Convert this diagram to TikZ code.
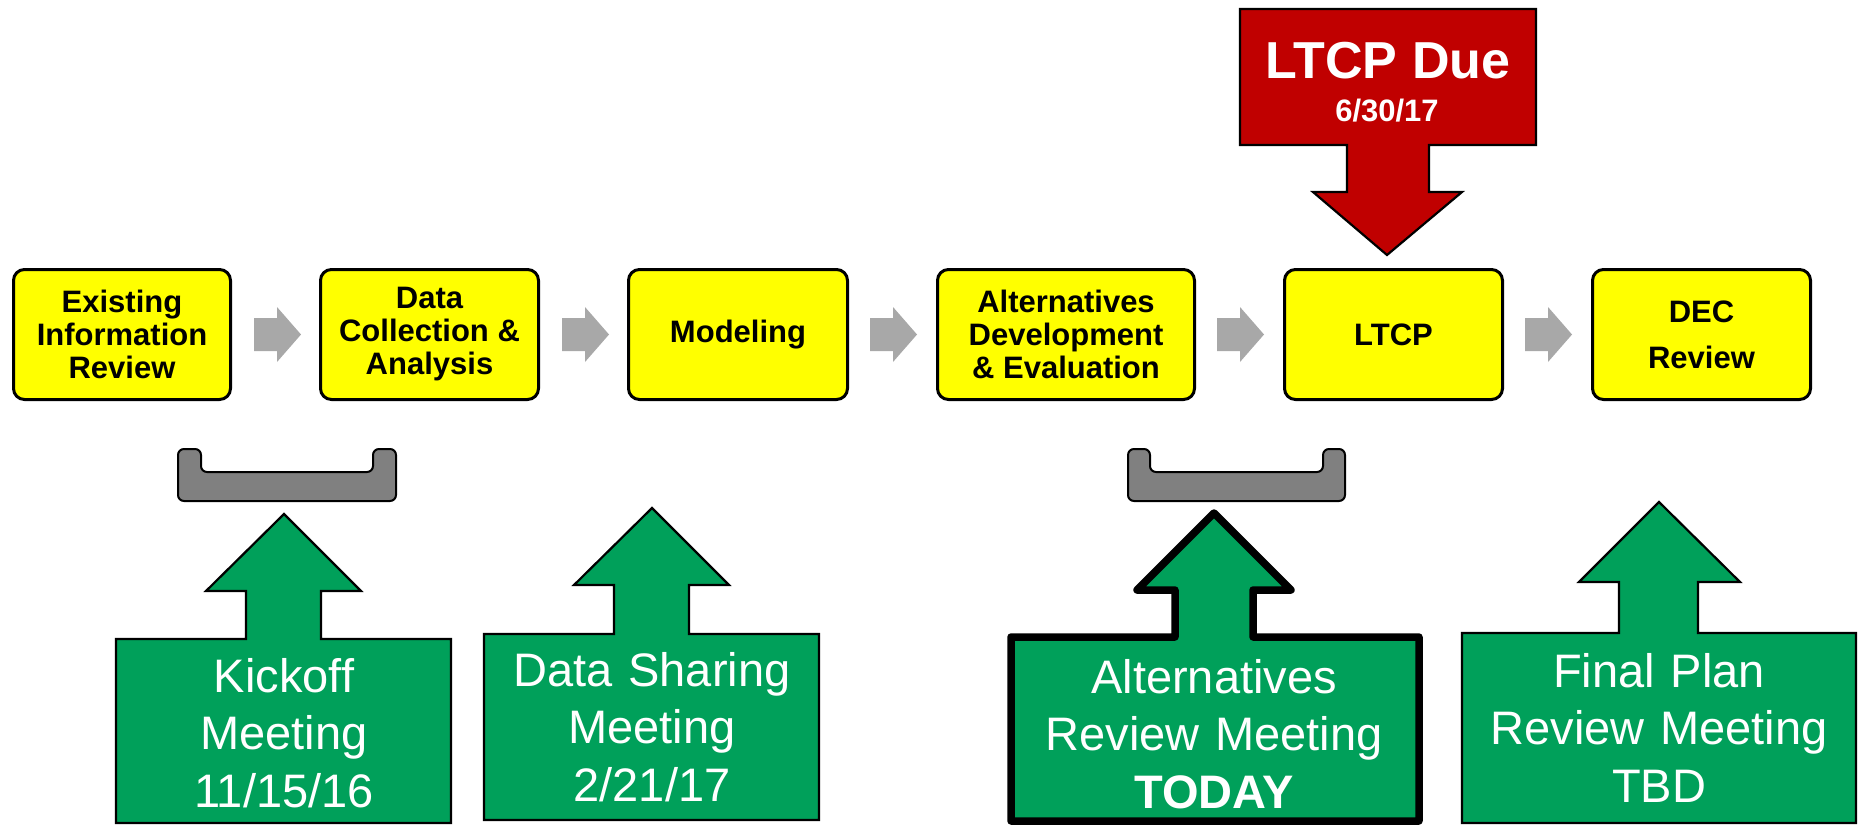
\documentclass[tikz,border=0pt]{standalone}
\usepackage{fontspec}
\setmainfont{Liberation Sans}
\usetikzlibrary{calc}
\definecolor{boxyellow}{RGB}{255,255,0}
\definecolor{duered}{RGB}{192,0,0}
\definecolor{meetgreen}{RGB}{0,160,90}
\definecolor{arrowgray}{RGB}{168,168,168}
\definecolor{bracketgray}{RGB}{128,128,128}
\begin{document}
\begin{tikzpicture}[x=1pt,y=-1pt,
  stage/.style={draw=black,line width=3pt,fill=boxyellow,rounded corners=11pt,inner sep=0pt,align=center,minimum height=130pt,font=\bfseries\fontsize{31}{33}\selectfont},
  bracketshape/.style={draw=black,line width=2pt,fill=bracketgray,rounded corners=6pt},
  callout/.style={draw=black,line width=2.2pt,fill=meetgreen,line join=miter},
  calloutnow/.style={draw=black,line width=7.5pt,fill=meetgreen,line join=round},
  duebox/.style={draw=black,line width=2.2pt,fill=duered},
  meettext/.style={anchor=base,text=white,inner sep=0pt,align=center,text width=400pt,font=\fontsize{47}{57.5}\selectfont},
  flowarrow/.pic={\fill[arrowgray] (0,-16.5) -- (23,-16.5) -- (23,-27.5) -- (47,0) -- (23,27.5) -- (23,16.5) -- (0,16.5) -- cycle;}
]
\useasboundingbox (0,0) rectangle (1862,825);

% process stages
\node[stage,minimum width=217pt] (b1) at (122,334.5) {Existing\\Information\\Review};
\node[stage,minimum width=218pt] (b2) at (429.5,334.5) {Data\\Collection \&\\Analysis};
\node[stage,minimum width=219pt] (b3) at (738,334.5) {Modeling};
\node[stage,minimum width=257pt] (b4) at (1066,334.5) {Alternatives\\Development\\\& Evaluation};
\node[stage,minimum width=218pt] (b5) at (1393.5,334.5) {LTCP};
\node[stage,minimum width=218pt,font=\bfseries\fontsize{31}{46}\selectfont] (b6) at (1701.5,334.5) {DEC\\Review};

% gray flow arrows
\pic at (254,334.5) {flowarrow};
\pic at (562,334.5) {flowarrow};
\pic at (870,334.5) {flowarrow};
\pic at (1217,334.5) {flowarrow};
\pic at (1525,334.5) {flowarrow};

% red due callout
\draw[duebox] (1240,9) -- (1536,9) -- (1536,145) -- (1429,145) -- (1429,192) -- (1462,192) -- (1387,255) -- (1313,192) -- (1347,192) -- (1347,145) -- (1240,145) -- cycle;
\node[anchor=base,text=white,inner sep=0pt,font=\bfseries\fontsize{52}{60}\selectfont] (due) at (1388,78) {LTCP Due};
\node[anchor=base,text=white,inner sep=0pt,font=\bfseries\fontsize{31}{36}\selectfont] (duedate) at (1387,121) {6/30/17};

% brackets
\draw[bracketshape] (178,449) -- (201,449) -- (201,472) -- (373,472) -- (373,449) -- (396,449) -- (396,501) -- (178,501) -- cycle;
\draw[bracketshape] (1128,449) -- (1150,449) -- (1150,472) -- (1323,472) -- (1323,449) -- (1345,449) -- (1345,501) -- (1128,501) -- cycle;

% green meeting callouts
\draw[callout] (116,639) -- (246,639) -- (246,591) -- (206,591) -- (284,514) -- (361,591) -- (321,591) -- (321,639) -- (451,639) -- (451,823) -- (116,823) -- cycle;
\draw[callout] (484,634) -- (614,634) -- (614,585) -- (574,585) -- (652,508) -- (729,585) -- (689,585) -- (689,634) -- (819,634) -- (819,820) -- (484,820) -- cycle;
\draw[calloutnow] (1011,637) -- (1175,637) -- (1175,590) -- (1137,590) -- (1214,513) -- (1291,590) -- (1253,590) -- (1253,637) -- (1419,637) -- (1419,821) -- (1011,821) -- cycle;
\draw[callout] (1462,633) -- (1619,633) -- (1619,582) -- (1579,582) -- (1659,502) -- (1740,582) -- (1698,582) -- (1698,633) -- (1856,633) -- (1856,823) -- (1462,823) -- cycle;

\node[meettext] (t1) at (284,692) {Kickoff\\Meeting\\11/15/16};
\node[meettext] (t2) at (652,686) {Data Sharing\\Meeting\\2/21/17};
\node[meettext] (t3) at (1214,693) {Alternatives\\Review Meeting\\\textbf{TODAY}};
\node[meettext] (t4) at (1659,687) {Final Plan\\Review Meeting\\TBD};
\end{tikzpicture}
\end{document}
